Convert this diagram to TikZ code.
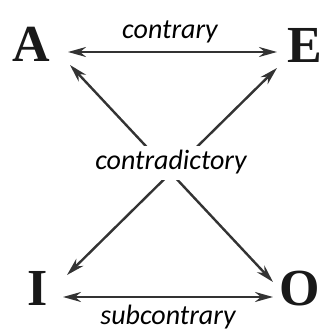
\documentclass[tikz,border=0pt]{standalone}
\usepackage{fontspec}
\setmainfont{Liberation Serif}
\newfontfamily\labelfont{Carlito}
\usetikzlibrary{arrows.meta,positioning,calc}

\begin{document}
\begin{tikzpicture}[x=1pt,y=1pt,
    letter/.style={inner sep=0pt,anchor=base,font=\fontsize{52}{52}\selectfont\bfseries,text=black!90},
    lbl/.style={inner sep=0pt,anchor=base,font=\fontsize{28}{28}\selectfont\labelfont\itshape},
    arr/.style={{Stealth[length=18pt,width=10pt]}-{Stealth[length=18pt,width=10pt]},line width=2.4pt,draw=black!80}]
  \useasboundingbox (0,0) rectangle (328,335);
  \node[letter] (A) at (31,273) {A};  \node[letter] (E) at (305,272) {E};
  \node[letter] (I) at (38,30)  {I};  \node[letter] (O) at (300,30)  {O};
  \draw[arr] ([shift={(37,10)}]A.base) -- ([shift={(-28,11)}]E.base);
  \draw[arr] ([shift={(25,8)}]I.base) -- ([shift={(-27,8)}]O.base);
  \draw[arr] ([shift={(39,-3)}]A.base) -- ([shift={(-27,23)}]O.base);
  \draw[arr] ([shift={(-28,-5)}]E.base) -- ([shift={(29,30)}]I.base);
  \node[lbl] (con) at (170,296) {contrary};
  \node[lbl,fill=white,inner sep=5pt] (cd) at (171,165) {contradictory};
  \node[lbl] (sub) at (168,10) {subcontrary};
\end{tikzpicture}
\end{document}
